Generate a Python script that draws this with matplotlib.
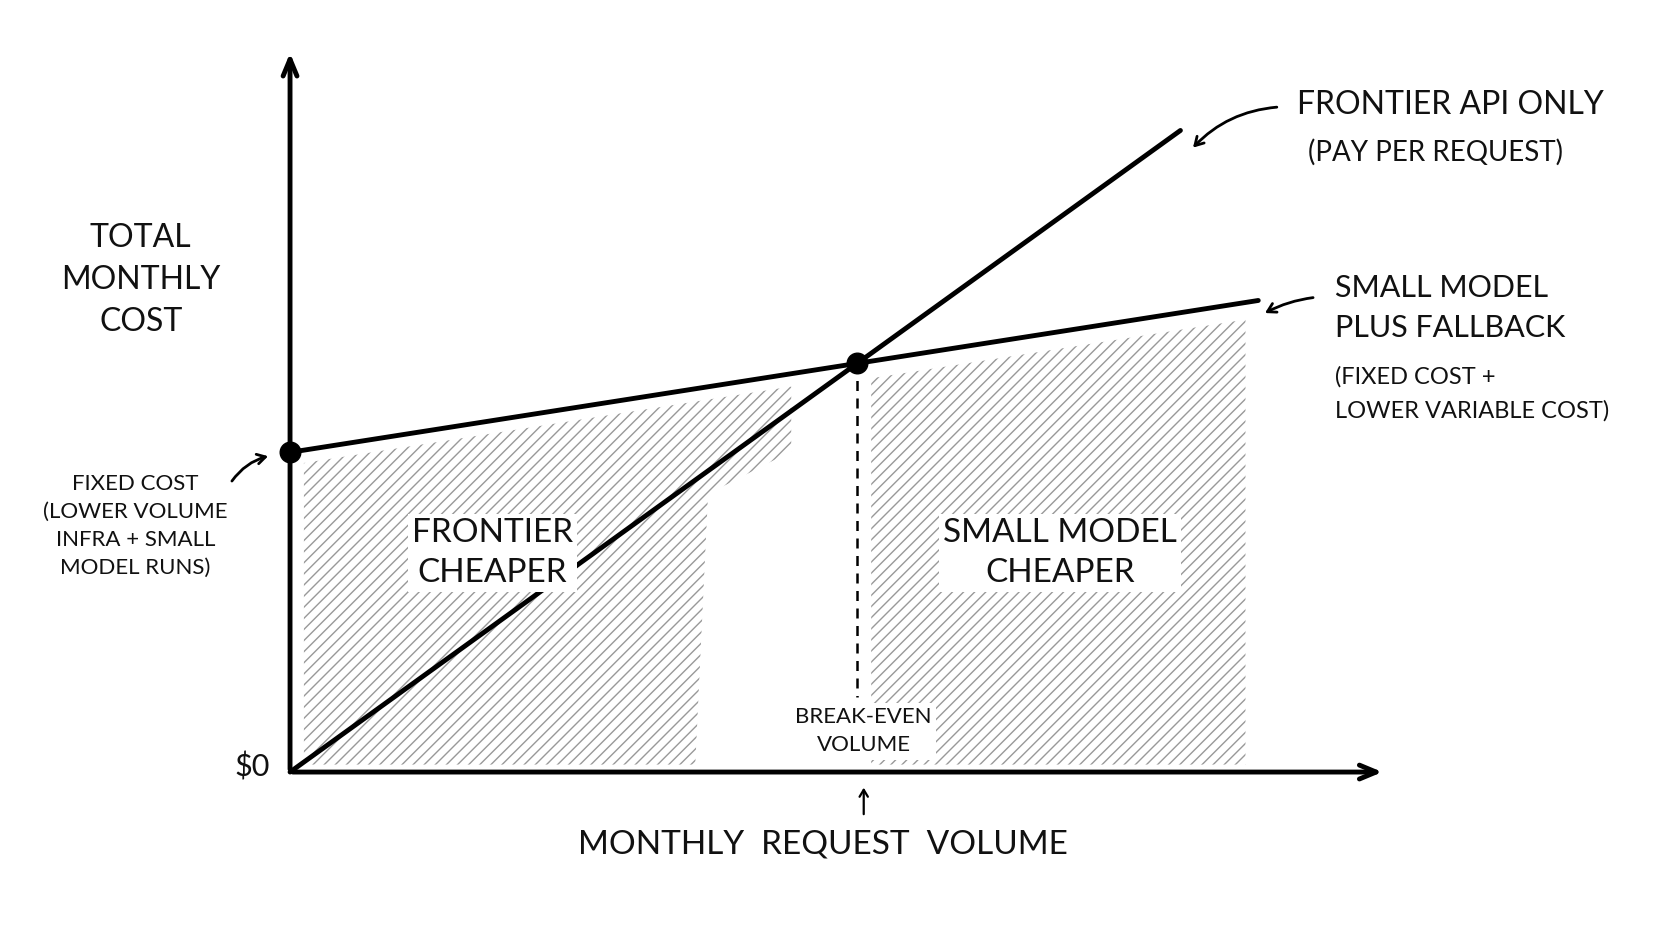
import matplotlib
matplotlib.use("Agg")
import numpy as np
import matplotlib.pyplot as plt
from matplotlib.patches import Polygon

# data (units: arbitrary volume / cost)
frontier_vol = [0, 835]
frontier_cost = [0, 600]
small_vol = [0, 908]
small_cost = [299, 441]
fixed_cost = small_cost[0]

f_slope = (frontier_cost[1] - frontier_cost[0]) / (frontier_vol[1] - frontier_vol[0])
s_slope = (small_cost[1] - small_cost[0]) / (small_vol[1] - small_vol[0])
be_x = fixed_cost / (f_slope - s_slope)
be_y = f_slope * be_x

def small_line(x):
    return fixed_cost + s_slope * np.asarray(x)

plt.rcParams['font.family'] = ['Lato', 'DejaVu Sans']
fig = plt.figure(figsize=(16.72, 9.41), dpi=100)
ax = fig.add_axes([0, 0, 1, 1])
ax.set_xlim(-272, 1568 - 272)
ax.set_ylim(-(880 - 722), 722)
ax.axis("off")

# hatched regions
hatch_kw = dict(facecolor="none", edgecolor="#999999", hatch="///", linewidth=0, zorder=1)
lx = np.linspace(13, 470, 20)
left = list(zip(lx, small_line(lx) - 12)) + [(470, 300), (392, 260), (380, 7), (13, 7)]
ax.add_patch(Polygon(left, **hatch_kw))
rx = np.linspace(545, 896, 20)
right = list(zip(rx, small_line(rx) - 16)) + [(896, 7), (545, 7)]
ax.add_patch(Polygon(right, **hatch_kw))

# axes arrows
ax.annotate("", xy=(0, 675), xytext=(0, 0),
            arrowprops=dict(arrowstyle="->,head_length=1.2,head_width=0.5", lw=3.5, color="black"))
ax.annotate("", xy=(1027, 0), xytext=(0, 0),
            arrowprops=dict(arrowstyle="->,head_length=1.2,head_width=0.5", lw=3.5, color="black"))

# lines
ax.plot(frontier_vol, frontier_cost, color="black", lw=3.5, zorder=3, solid_capstyle="round")
ax.plot(small_vol, small_cost, color="black", lw=3.5, zorder=3, solid_capstyle="round")
ax.plot([be_x, be_x], [be_y, 70], color="black", lw=1.8, ls=(0, (4, 3)), zorder=3)
ax.scatter([0, be_x], [fixed_cost, be_y], s=220, color="black", zorder=4)

# texts
tk = dict(color="#111111", ha="center", va="center")
wb = dict(facecolor="white", edgecolor="none", pad=3)
ax.text(-140, 460, "TOTAL\nMONTHLY\nCOST", fontsize=23, linespacing=1.5, **tk)
ax.text(-36, 5, "$0", fontsize=22, **tk)
ax.text(500, -68, "MONTHLY  REQUEST  VOLUME", fontsize=24, **tk)
ax.text(-145, 230, "FIXED COST\n(LOWER VOLUME\nINFRA + SMALL\nMODEL RUNS)", fontsize=16, linespacing=1.5, **tk)
ax.text(538, 38, "BREAK-EVEN\nVOLUME", fontsize=16, linespacing=1.5, zorder=5, bbox=wb, **tk)
ax.text(190, 205, "FRONTIER\nCHEAPER", fontsize=24, linespacing=1.4, zorder=5, bbox=wb, **tk)
ax.text(722, 205, "SMALL MODEL\nCHEAPER", fontsize=24, linespacing=1.4, zorder=5, bbox=wb, **tk)
lk = dict(color="#111111", ha="left", va="center")
ax.text(944, 624, "FRONTIER API ONLY", fontsize=23, **lk)
ax.text(955, 580, "(PAY PER REQUEST)", fontsize=20, **lk)
ax.text(980, 434, "SMALL MODEL\nPLUS FALLBACK", fontsize=22, linespacing=1.5, **lk)
ax.text(980, 354, "(FIXED COST +\nLOWER VARIABLE COST)", fontsize=17, linespacing=1.7, **lk)

# pointer arrows
ak = dict(arrowstyle="->,head_length=0.6,head_width=0.35", lw=2, color="black")
ax.annotate("", xy=(845, 582), xytext=(928, 622),
            arrowprops=dict(connectionstyle="arc3,rad=0.2", **ak))
ax.annotate("", xy=(912, 428), xytext=(962, 444),
            arrowprops=dict(connectionstyle="arc3,rad=0.1", **ak))
ax.annotate("", xy=(-18, 296), xytext=(-56, 270),
            arrowprops=dict(connectionstyle="arc3,rad=-0.2", **ak))
ax.annotate("", xy=(538, -12), xytext=(538, -42),
            arrowprops=dict(arrowstyle="->,head_length=0.5,head_width=0.3", lw=1.6, color="black"))

fig.savefig("out.png", dpi=100, facecolor="white")
